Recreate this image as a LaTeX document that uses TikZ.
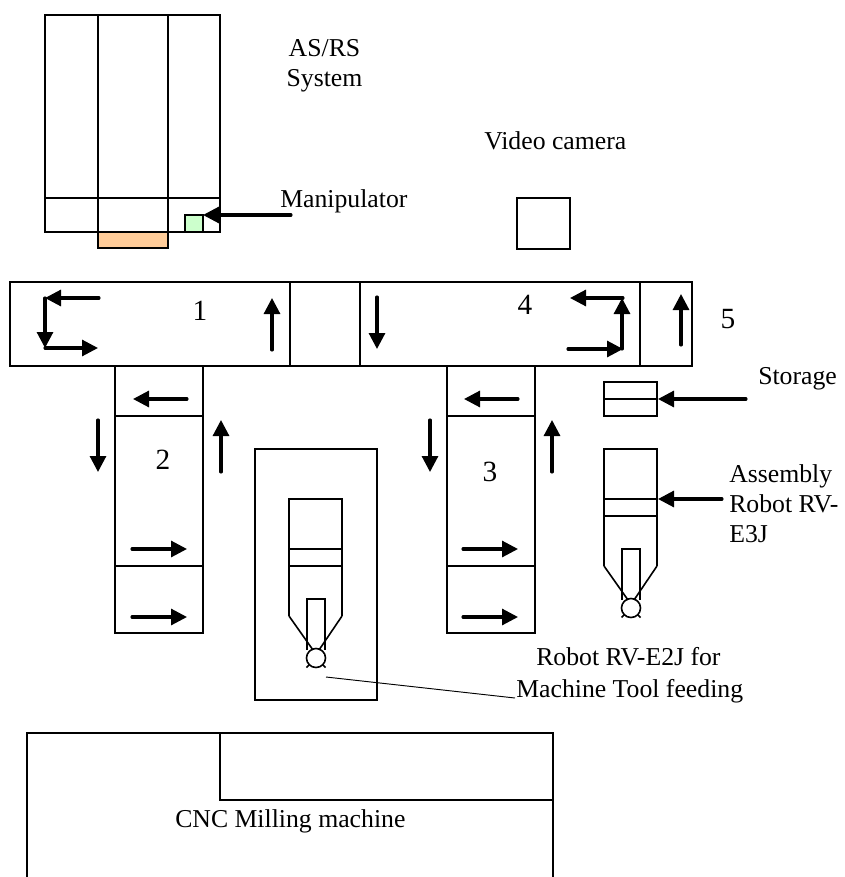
\documentclass[tikz,border=0pt]{standalone}
\usepackage{fontspec}
\setmainfont{Liberation Serif}
\usetikzlibrary{calc,arrows.meta}
\definecolor{palletorange}{HTML}{FFCC99}
\definecolor{grippergreen}{HTML}{CCFFCC}
\tikzstyle{box} = [line width=1.2pt]
\tikzstyle{flow} = [line width=2.3pt,line cap=round,-{Triangle[length=12pt,width=12pt]}]
\tikzstyle{lbl} = [inner sep=0pt,font=\fontsize{19.3}{22.5}\selectfont,align=left]
\tikzstyle{num} = [inner sep=0pt,font=\fontsize{22}{26}\selectfont]
\newcommand{\DrawRobot}[2]% #1,#2 = centre of the wrist circle
{\draw[box] ($(#1,#2)+(-27,-42)$) -- ($(#1,#2)+(-27,-159)$) -- ($(#1,#2)+(26,-159)$) -- ($(#1,#2)+(26,-42)$);
 \draw[box] ($(#1,#2)+(-27,-109)$) -- ($(#1,#2)+(26,-109)$);
 \draw[box] ($(#1,#2)+(-27,-92)$) -- ($(#1,#2)+(26,-92)$);
 \draw[box] ($(#1,#2)+(-9,-8)$) -- ($(#1,#2)+(-9,-59)$) -- ($(#1,#2)+(9,-59)$) -- ($(#1,#2)+(9,-8)$);
 \draw[box] ($(#1,#2)+(-27,-42)$) -- ($(#1,#2)+(-3,-8)$);
 \draw[box] ($(#1,#2)+(26,-42)$) -- ($(#1,#2)+(3,-8)$);
 \draw[box] (#1,#2) circle (9.5);
 \draw[box] ($(#1,#2)+(-9.5,9.5)$) -- ($(#1,#2)+(-6.5,6.5)$);
 \draw[box] ($(#1,#2)+(9.5,9.5)$) -- ($(#1,#2)+(6.5,6.5)$);
}

\begin{document}
\begin{tikzpicture}[x=0.75pt,y=-0.75pt]

    \useasboundingbox (0,0) rectangle (844,877);

    % AS/RS rack
    \draw[box] (45,15) rectangle (220,232);
    \draw[box] (98,15) -- (98,232);
    \draw[box] (168,15) -- (168,232);
    \draw[box] (45,198) -- (220,198);
    \draw[box,fill=palletorange] (98,232) rectangle (168,248);
    \draw[box,fill=grippergreen] (185,215) rectangle (203,232);

    % main conveyor
    \draw[box] (10,282) rectangle (692,366);
    \draw[box] (290,282) -- (290,366);
    \draw[box] (360,282) -- (360,366);
    \draw[box] (640,282) -- (640,366);

    % side conveyors
    \foreach \xa/\xb in {115/203,447/535}
    {
        \draw[box] (\xa,366) rectangle (\xb,633);
        \draw[box] (\xa,416) -- (\xb,416);
        \draw[box] (\xa,566) -- (\xb,566);
    }

    % transfer arrows
    \foreach \xa/\ya/\xb/\yb in {99/298/45/298, 45/298/45/348, 45/348/98/348,
        272/350/272/298, 377/297/377/349,
        623/298/570/298, 622/349/622/298, 568/349/623/349, 681/345/681/294,
        187/399/133/399, 518/399/464/399,
        98/420/98/472, 221/472/221/420, 430/420/430/472, 552/472/552/420,
        132/549/187/549, 132/617/187/617, 463/549/518/549, 463/617/518/617}
        \draw[flow] (\xa,\ya) -- (\xb,\yb);

    \node[num] (one) at (200,311) {1};
    \node[num] (two) at (163,460) {2};
    \node[num] (three) at (490,472) {3};
    \node[num] (four) at (525,305) {4};
    \node[num] (five) at (728,319) {5};

    % camera, storage, robots
    \draw[box] (517,198) rectangle (570,249);
    \draw[box] (604,382) rectangle (657,416);
    \draw[box] (604,399) -- (657,399);
    \draw[box] (255,449) rectangle (377,700);
    \DrawRobot{631}{608}
    \DrawRobot{316}{658}

    % milling machine, runs off the page
    \draw[box] (27,877) -- (27,733) -- (553,733) -- (553,877);
    \draw[box] (220,733) -- (220,800) -- (553,800);

    % labels
    \node[lbl,align=center,anchor=base] (asrs) at (324.5,87) {AS/RS\\System};
    \node[lbl,anchor=base west] (video) at (484,150) {Video camera};
    \node[lbl,anchor=base west] (manip) at (280,208) {Manipulator};
    \node[lbl,anchor=base west] (storage) at (758,384) {Storage};
    \node[lbl,anchor=base west] (assembly) at (729,542) {Assembly\\Robot RV-\\E3J};
    \node[lbl,anchor=base west] (feeding) at (536,665) {Robot RV-E2J for};
    \node[lbl,anchor=base west] (machine) at (516,697) {Machine Tool feeding};
    \node[lbl,anchor=base west] (cnc) at (175,827) {CNC Milling machine};

    \coordinate (manipfrom) at (291,215);
    \coordinate (manipto) at (203,215);
    \coordinate (storagefrom) at (746,399);
    \coordinate (storageto) at (658,399);
    \coordinate (assemblyfrom) at (722,499);
    \coordinate (assemblyto) at (658,499);
    \coordinate (feedfrom) at (326,677);
    \coordinate (feedto) at (515,698);

    \draw[flow] (manipfrom) -- (manipto);
    \draw[flow] (storagefrom) -- (storageto);
    \draw[flow] (assemblyfrom) -- (assemblyto);
    \draw[line width=0.7pt] (feedfrom) -- (feedto);

\end{tikzpicture}
\end{document}
